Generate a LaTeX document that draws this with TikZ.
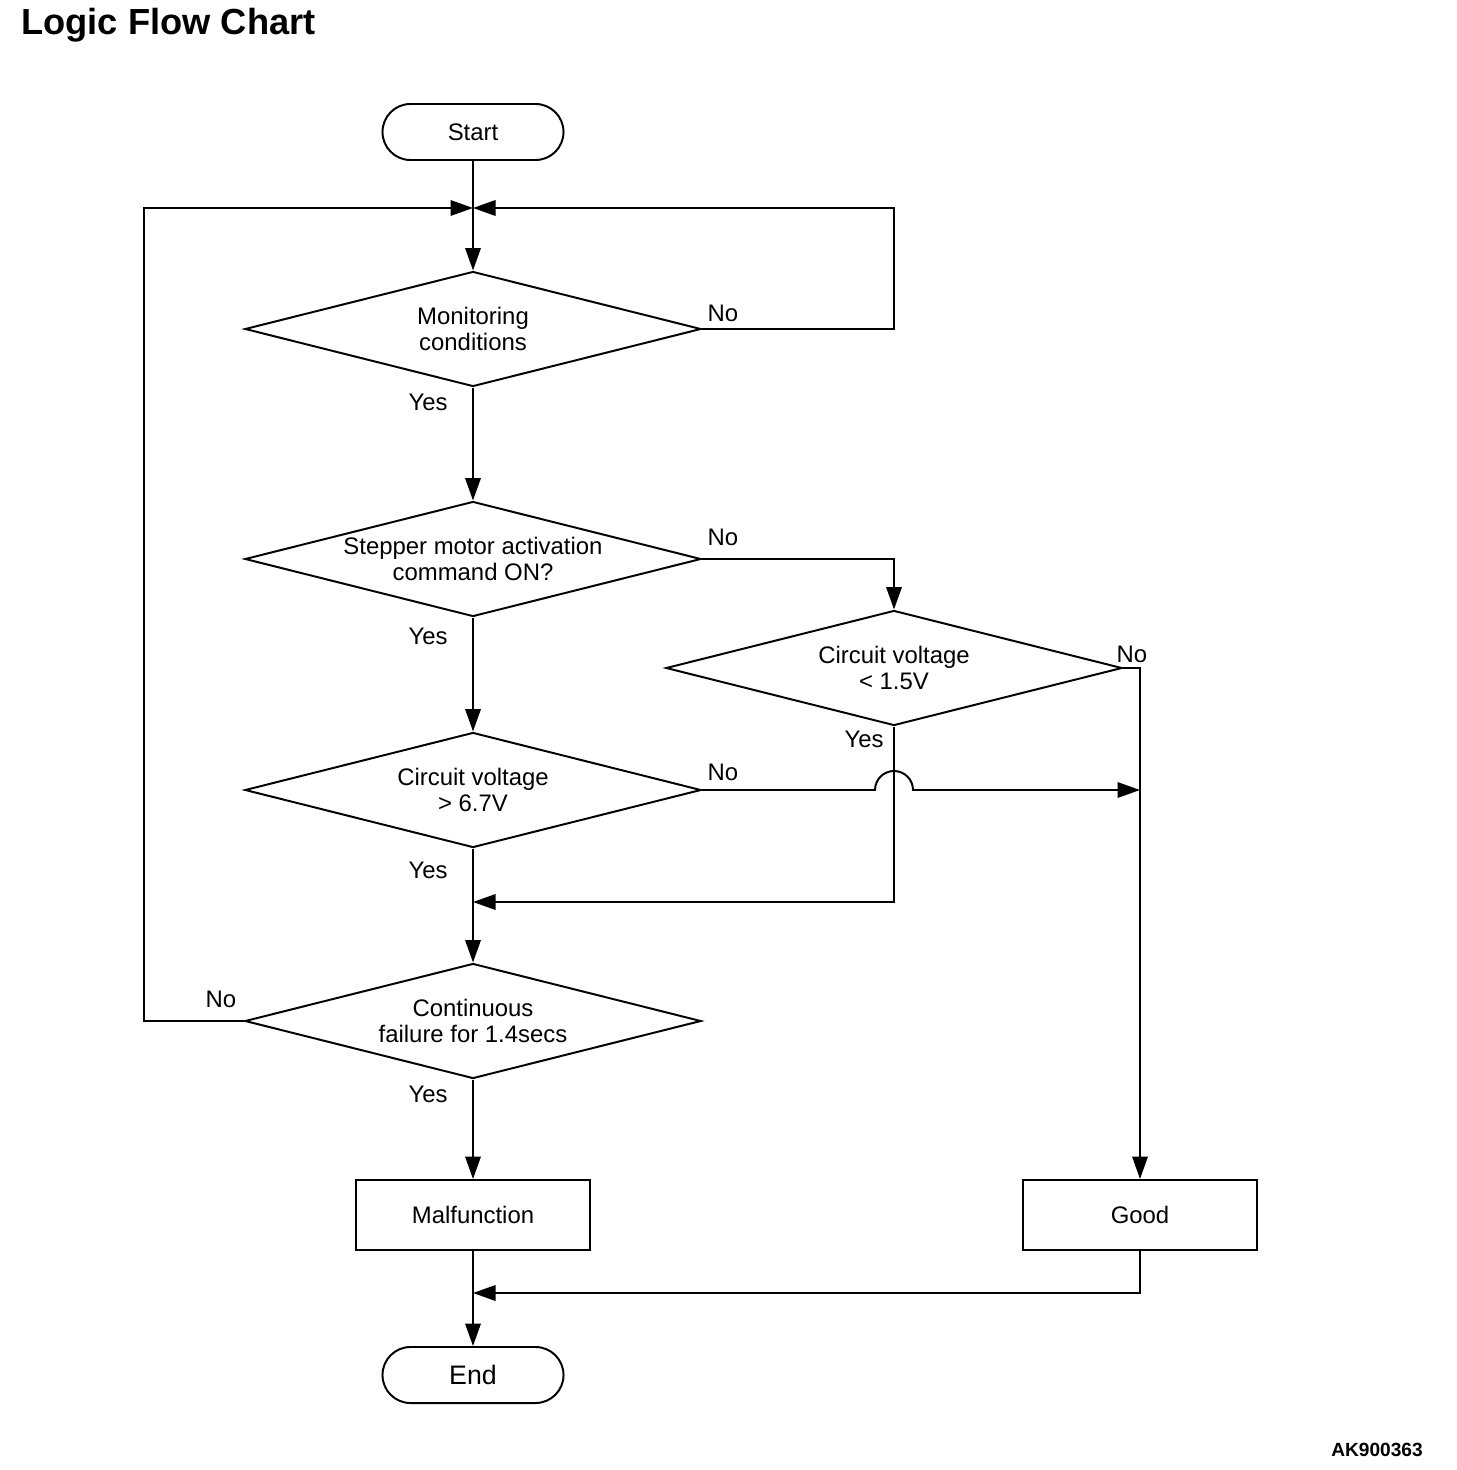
\documentclass[tikz,border=0pt]{standalone}
\usepackage{fontspec}
\setmainfont{Liberation Sans}
\usetikzlibrary{shapes.geometric,arrows.meta}

\begin{document}
\begin{tikzpicture}[x=0.025cm,y=-0.025cm]
\tikzset{trait/.style={line width=1.4pt},
  fleche/.style={trait, -{Triangle[length=16pt,width=11pt]}},
  losange/.style={draw, trait, diamond, aspect=4, inner sep=0pt, minimum width=11.4cm, minimum height=2.875cm, align=center, font=\fontsize{17}{18}\selectfont},
  boite/.style={draw, trait, rectangle, minimum width=5.85cm, minimum height=1.75cm, font=\fontsize{17}{18}\selectfont},
  capsule/.style={draw, trait, rectangle, rounded corners=0.7cm, minimum width=4.525cm, minimum height=1.4cm, font=\fontsize{17}{18}\selectfont},
  rep/.style={font=\fontsize{17}{18}\selectfont, inner sep=0pt}}
\useasboundingbox (0,0) rectangle (1456,1470);
\node[anchor=west, inner sep=0pt, font=\fontsize{25.8}{28}\selectfont\bfseries] (T) at (21,25) {Logic Flow Chart};
\node[capsule] (S) at (473,132) {Start};
\node[losange] (Q1) at (473,329) {Monitoring\\conditions};
\node[losange] (Q2) at (473,559) {Stepper motor activation\\command ON?};
\node[losange] (Q3) at (894,668) {Circuit voltage\\< 1.5V};
\node[losange] (Q4) at (473,790) {Circuit voltage\\> 6.7V};
\node[losange] (Q5) at (473,1021) {Continuous\\failure for 1.4secs};
\node[boite] (F) at (473,1215) {Malfunction};
\node[boite] (G) at (1140,1215) {Good};
\node[capsule, font=\fontsize{19}{20}\selectfont] (E) at (473,1375) {End};
\node[inner sep=0pt, font=\fontsize{13.6}{15}\selectfont\bfseries] (R) at (1377,1450) {AK900363};
% points de jonction
\coordinate (M1) at (473,208);
\coordinate (M2) at (473,902);
\coordinate (M3) at (1140,790);
\coordinate (M4) at (473,1293);
% reponses
\node[rep] (n1) at (723,313) {No};
\node[rep] (y1) at (428,402) {Yes};
\node[rep] (n2) at (723,537) {No};
\node[rep] (y2) at (428,636) {Yes};
\node[rep] (n3) at (1132,654) {No};
\node[rep] (y3) at (864,739) {Yes};
\node[rep] (n4) at (723,772) {No};
\node[rep] (y4) at (428,870) {Yes};
\node[rep] (n5) at (221,999) {No};
\node[rep] (y5) at (428,1094) {Yes};
% liaisons
\draw[fleche] (S.south) -- (Q1.north);
\draw[fleche] (Q1.east) -- ++(192,0) |- (M1);
\draw[fleche] (Q5.west) -- ++(-100,0) |- (M1);
\draw[fleche] (Q1.south) -- (Q2.north);
\draw[fleche] (Q2.east) -| (Q3.north);
\draw[fleche] (Q2.south) -- (Q4.north);
\draw[fleche] (Q3.east) -| (G.north);
\draw[fleche] (Q3.south) |- (M2);
\draw[fleche] (Q4.east) -- (875,790) arc[start angle=180, end angle=0, radius=0.475cm] -- (M3);
\draw[fleche] (Q4.south) -- (Q5.north);
\draw[fleche] (Q5.south) -- (F.north);
\draw[fleche] (F.south) -- (E.north);
\draw[fleche] (G.south) |- (M4);
\end{tikzpicture}
\end{document}
